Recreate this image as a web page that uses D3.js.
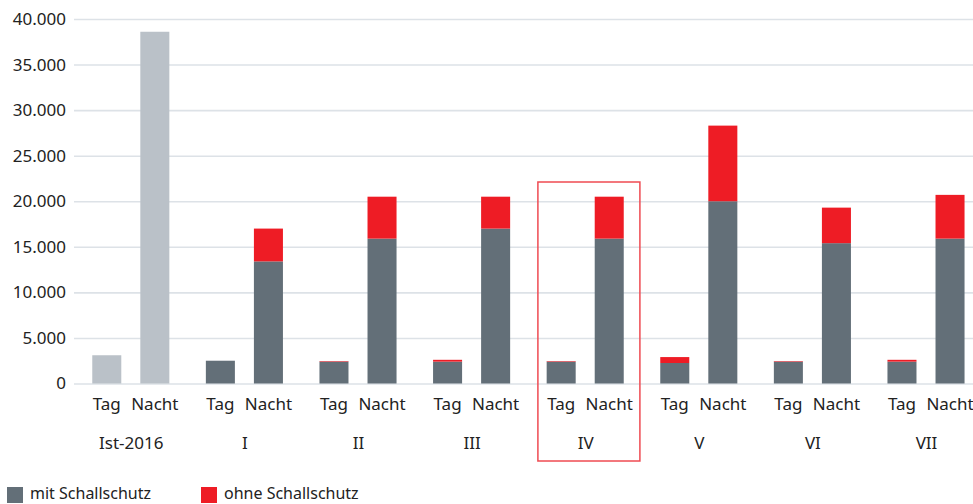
<!DOCTYPE html>
<html>
<head>
<meta charset="utf-8">
<script src="https://cdn.jsdelivr.net/npm/d3@7"></script>
<style>
  body { margin: 0; background: #fff; }
  svg text { font-family: "Noto Sans", sans-serif; fill: #222; }
</style>
</head>
<body>
<svg id="chart" width="973" height="504"></svg>
<script>
// data
var groups = ["Ist-2016", "I", "II", "III", "IV", "V", "VI", "VII"];
var periods = ["Tag", "Nacht"];
var mitTag    = [3100, 2500, 2400, 2400, 2400, 2250, 2400, 2400];
var ohneTag   = [0,    0,    60,   200,  60,   650,  60,   200];
var mitNacht  = [38600, 13400, 15900, 17000, 15900, 20000, 15400, 15900];
var ohneNacht = [0,     3600,  4600,  3500,  4600,  8300,  3900,  4800];
var yTicks = [0, 5000, 10000, 15000, 20000, 25000, 30000, 35000, 40000];
var legendLabels = ["mit Schallschutz", "ohne Schallschutz"];
var highlightGroup = "IV";

var COL_MIT = "#636f78", COL_OHNE = "#ee1c25", COL_IST = "#bac1c8", COL_GRID = "#dde2e7";

var svg = d3.select("#chart");
// plot edges (note: "top" would clash with window.top)
var plotL = 74, plotR = 973, plotT = 19, plotB = 383.5;

var de = d3.formatLocale({decimal: ",", thousands: ".", grouping: [3], currency: ["", " €"]});

var x0 = d3.scaleBand().domain(groups).range([plotL, plotL + 8 * 113.6]).padding(0);
var x1 = d3.scaleBand().domain(periods).range([0, x0.bandwidth()])
    .paddingInner(0.396).paddingOuter(0.38);
var y = d3.scaleLinear().domain([0, 40000]).range([plotB, plotT]);

// grid + y labels
var yAxis = svg.append("g")
    .attr("transform", "translate(" + plotL + ",0)")
    .call(d3.axisLeft(y).tickValues(yTicks).tickFormat(de.format(",d"))
        .tickSize(-(plotR - plotL)).tickPadding(8));
yAxis.select(".domain").remove();
yAxis.selectAll(".tick line").attr("stroke", COL_GRID).attr("stroke-width", 1.6);
yAxis.selectAll(".tick text").style("font-size", "17px").attr("fill", "#222");

// build stacked rows
var rows = [];
groups.forEach(function(g, i){
    periods.forEach(function(p){
        var mit = p === "Tag" ? mitTag[i] : mitNacht[i];
        var ohne = p === "Tag" ? ohneTag[i] : ohneNacht[i];
        rows.push({group: g, period: p, y0: 0, y1: mit, color: i === 0 ? COL_IST : COL_MIT});
        if(ohne > 0) rows.push({group: g, period: p, y0: mit, y1: mit + ohne, color: COL_OHNE});
    });
});

svg.append("g").selectAll("rect").data(rows).join("rect")
    .attr("x", function(d){ return x0(d.group) + x1(d.period); })
    .attr("width", x1.bandwidth())
    .attr("y", function(d){ return y(d.y1); })
    .attr("height", function(d){ return y(d.y0) - y(d.y1); })
    .attr("fill", function(d){ return d.color; });

// period labels
var lab = svg.append("g");
groups.forEach(function(g){
    periods.forEach(function(p){
        lab.append("text")
            .attr("x", x0(g) + x1(p) + x1.bandwidth() / 2)
            .attr("y", 410)
            .attr("text-anchor", "middle")
            .style("font-size", "17px")
            .text(p);
    });
    lab.append("text")
        .attr("x", x0(g) + x0.bandwidth() / 2 + 0.5)
        .attr("y", 449)
        .attr("text-anchor", "middle")
        .style("font-size", "17px")
        .text(g);
});

// highlight frame
svg.append("rect")
    .attr("x", x0(highlightGroup) + 9.5)
    .attr("y", 182)
    .attr("width", 102)
    .attr("height", 279)
    .attr("fill", "none")
    .attr("stroke", "#ef4b52")
    .attr("stroke-width", 1.5);

// legend
var legX = [7, 201];
var leg = svg.append("g");
legendLabels.forEach(function(t, i){
    leg.append("rect").attr("x", legX[i]).attr("y", 487).attr("width", 16).attr("height", 16)
        .attr("fill", i === 0 ? COL_MIT : COL_OHNE);
    leg.append("text").attr("x", legX[i] + 23).attr("y", 499)
        .style("font-size", "16px").text(t);
});
</script>
</body>
</html>
